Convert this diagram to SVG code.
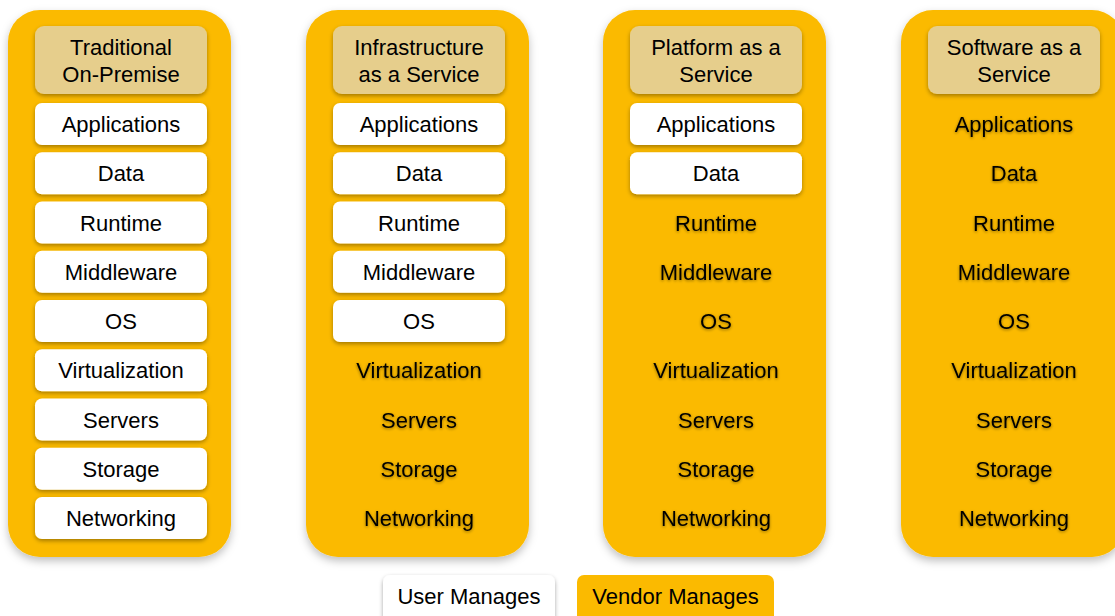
<svg xmlns="http://www.w3.org/2000/svg" width="1115" height="616" viewBox="0 0 1115 616">
<defs>
<filter id="sh" x="-20%" y="-20%" width="140%" height="160%"><feDropShadow dx="0" dy="2" stdDeviation="2" flood-color="#000" flood-opacity="0.35"/></filter>
<filter id="shb" x="-20%" y="-20%" width="140%" height="140%"><feDropShadow dx="0" dy="4" stdDeviation="4" flood-color="#000" flood-opacity="0.25"/></filter>
<filter id="ts" x="-10%" y="-30%" width="120%" height="160%"><feDropShadow dx="0" dy="1" stdDeviation="1.5" flood-color="#000" flood-opacity="0.45"/></filter>
</defs>
<style>
.col{fill:#FBBA00;filter:url(#shb)}
.hdr{fill:#E6CE8C;filter:url(#sh)}
.wb{fill:#fff;filter:url(#sh)}
text{font-family:"Liberation Sans",Arial,sans-serif;font-size:22px;fill:#000;text-anchor:middle}
.v{filter:url(#ts)}
</style>

<g id="col1">
<rect class="col" x="8" y="10" width="223" height="547" rx="32"/>
<rect class="hdr" x="35" y="26" width="172" height="68" rx="9"/>
<text x="121" y="55">Traditional</text><text x="121" y="82">On-Premise</text>
<rect class="wb" x="35" y="103" width="172" height="42" rx="7"/><text x="121" y="132">Applications</text>
<rect class="wb" x="35" y="152.25" width="172" height="42" rx="7"/><text x="121" y="181.25">Data</text>
<rect class="wb" x="35" y="201.5" width="172" height="42" rx="7"/><text x="121" y="230.5">Runtime</text>
<rect class="wb" x="35" y="250.75" width="172" height="42" rx="7"/><text x="121" y="279.75">Middleware</text>
<rect class="wb" x="35" y="300" width="172" height="42" rx="7"/><text x="121" y="329">OS</text>
<rect class="wb" x="35" y="349.25" width="172" height="42" rx="7"/><text x="121" y="378.25">Virtualization</text>
<rect class="wb" x="35" y="398.5" width="172" height="42" rx="7"/><text x="121" y="427.5">Servers</text>
<rect class="wb" x="35" y="447.75" width="172" height="42" rx="7"/><text x="121" y="476.75">Storage</text>
<rect class="wb" x="35" y="497" width="172" height="42" rx="7"/><text x="121" y="526">Networking</text>
</g>

<g id="col2" transform="translate(298,0)">
<rect class="col" x="8" y="10" width="223" height="547" rx="32"/>
<rect class="hdr" x="35" y="26" width="172" height="68" rx="9"/>
<text x="121" y="55">Infrastructure</text><text x="121" y="82">as a Service</text>
<rect class="wb" x="35" y="103" width="172" height="42" rx="7"/><text x="121" y="132">Applications</text>
<rect class="wb" x="35" y="152.25" width="172" height="42" rx="7"/><text x="121" y="181.25">Data</text>
<rect class="wb" x="35" y="201.5" width="172" height="42" rx="7"/><text x="121" y="230.5">Runtime</text>
<rect class="wb" x="35" y="250.75" width="172" height="42" rx="7"/><text x="121" y="279.75">Middleware</text>
<rect class="wb" x="35" y="300" width="172" height="42" rx="7"/><text x="121" y="329">OS</text>
<text class="v" x="121" y="378.25">Virtualization</text>
<text class="v" x="121" y="427.5">Servers</text>
<text class="v" x="121" y="476.75">Storage</text>
<text class="v" x="121" y="526">Networking</text>
</g>

<g id="col3" transform="translate(595,0)">
<rect class="col" x="8" y="10" width="223" height="547" rx="32"/>
<rect class="hdr" x="35" y="26" width="172" height="68" rx="9"/>
<text x="121" y="55">Platform as a</text><text x="121" y="82">Service</text>
<rect class="wb" x="35" y="103" width="172" height="42" rx="7"/><text x="121" y="132">Applications</text>
<rect class="wb" x="35" y="152.25" width="172" height="42" rx="7"/><text x="121" y="181.25">Data</text>
<text class="v" x="121" y="230.5">Runtime</text>
<text class="v" x="121" y="279.75">Middleware</text>
<text class="v" x="121" y="329">OS</text>
<text class="v" x="121" y="378.25">Virtualization</text>
<text class="v" x="121" y="427.5">Servers</text>
<text class="v" x="121" y="476.75">Storage</text>
<text class="v" x="121" y="526">Networking</text>
</g>

<g id="col4" transform="translate(893,0)">
<rect class="col" x="8" y="10" width="223" height="547" rx="32"/>
<rect class="hdr" x="35" y="26" width="172" height="68" rx="9"/>
<text x="121" y="55">Software as a</text><text x="121" y="82">Service</text>
<text class="v" x="121" y="132">Applications</text>
<text class="v" x="121" y="181.25">Data</text>
<text class="v" x="121" y="230.5">Runtime</text>
<text class="v" x="121" y="279.75">Middleware</text>
<text class="v" x="121" y="329">OS</text>
<text class="v" x="121" y="378.25">Virtualization</text>
<text class="v" x="121" y="427.5">Servers</text>
<text class="v" x="121" y="476.75">Storage</text>
<text class="v" x="121" y="526">Networking</text>
</g>

<g id="legend-user">
<rect class="wb" x="383" y="575" width="172" height="48" rx="7"/>
<text x="469" y="604">User Manages</text>
</g>
<g id="legend-vendor">
<rect x="577" y="575" width="197" height="48" rx="7" fill="#FBBA00"/>
<text x="675.5" y="604">Vendor Manages</text>
</g>
<g id="connectors"/>
</svg>
